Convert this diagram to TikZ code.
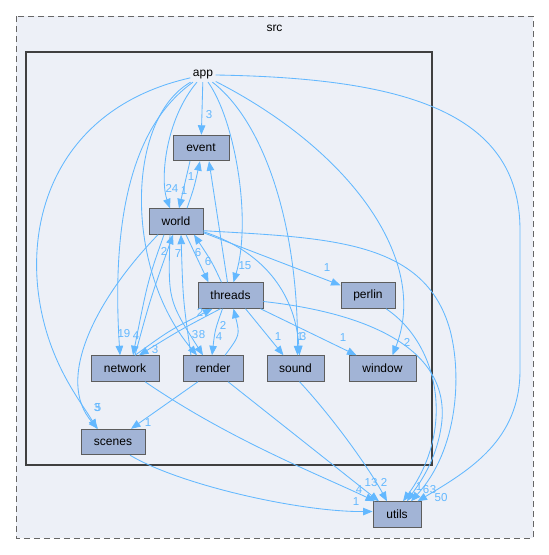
\documentclass[tikz,border=0pt]{standalone}
\usepackage{fontspec}
\setmainfont{Liberation Sans}
\usetikzlibrary{arrows.meta}
\definecolor{edgeblue}{HTML}{63B8FF}
\definecolor{nodefill}{HTML}{A2B4D6}
\definecolor{clusterfill}{HTML}{EDF0F7}
\definecolor{bordergrey}{HTML}{404040}
\begin{document}
\begin{tikzpicture}[x=1pt,y=-1pt,
  box/.style={draw=bordergrey!85, fill=nodefill, line width=0.9pt, minimum height=25.5pt, inner sep=0pt, font=\fontsize{12}{14}\selectfont},
  lbl/.style={text=edgeblue, inner sep=0pt, font=\fontsize{11.5}{13}\selectfont},
  dep/.style={draw=edgeblue, line width=0.85pt, -{Triangle[length=9.5pt,width=7.5pt]}},
  outercl/.style={draw=bordergrey!80, fill=clusterfill, line width=0.9pt, dash pattern=on 6pt off 4pt},
  innercl/.style={draw=bordergrey, fill=clusterfill, line width=2.2pt},
]
\fill[white] (0,0) rectangle (549,555);
\useasboundingbox (0,0) rectangle (549,555);
% clusters
\draw[outercl] (16,16) rectangle (533,538);
\node[font=\fontsize{12}{14}\selectfont, inner sep=0pt] (srclbl) at (274.5,28) {src};
\draw[innercl] (26,52) rectangle (432,465);
% nodes
\node[font=\fontsize{12}{14}\selectfont, inner sep=2.5pt] (app) at (203,75) {app};
\node[box, minimum width=56pt] (event) at (201,148) {event};
\node[box, minimum width=54pt] (world) at (176,221.5) {world};
\node[box, minimum width=65pt] (threads) at (230.5,295.5) {threads};
\node[box, minimum width=54pt] (perlin) at (368,295.5) {perlin};
\node[box, minimum width=68pt] (network) at (125,368.5) {network};
\node[box, minimum width=60pt] (render) at (213,368.5) {render};
\node[box, minimum width=57pt] (sound) at (295.5,368.5) {sound};
\node[box, minimum width=67pt] (window) at (382.5,368.5) {window};
\node[box, minimum width=64pt] (scenes) at (113,442) {scenes};
\node[box, minimum width=48pt] (utils) at (397,514.5) {utils};
% edges
\draw[dep] (app) -- (event);
\draw[dep] (app) .. controls (165,120) and (160,180) .. ([xshift=-6]world.north);
\draw[dep] ([xshift=-11]event.south) -- ([xshift=3]world.north);
\draw[dep] ([xshift=11]world.north) .. controls (194,188) .. ([xshift=-1]event.south);
\draw[dep] ([xshift=-3]threads.north) -- ([xshift=8]event.south);
\draw[dep] (app) .. controls (235,120) and (252,220) .. ([xshift=3]threads.north);
\draw[dep] ([xshift=10]world.south) -- ([xshift=-22]threads.north);
\draw[dep] ([xshift=-9]threads.north) .. controls (212,262) .. ([xshift=18]world.south);
\draw[dep] ([xshift=10]network.north) .. controls (150,300) .. ([xshift=-3]world.south);
\draw[dep] ([xshift=-22]render.north) .. controls (183,300) .. ([xshift=5]world.south);
\draw[dep] ([xshift=-12]world.south) .. controls (148,280) .. ([xshift=8]network.north);
\draw[dep] (app) .. controls (140,120) and (110,200) .. ([xshift=-5]network.north);
\draw[dep] (app) .. controls (70,105) and (28,200) .. (38,290) .. controls (46,360) and (80,400) .. ([xshift=-16]scenes.north);
\draw[dep] ([xshift=-18]world.south) .. controls (95,300) and (55,380) .. ([xshift=-15]scenes.north);
\draw[dep] (app) .. controls (125,120) and (125,270) .. ([xshift=-16]render.north);
\draw[dep] ([xshift=-6]world.south) .. controls (168,300) .. ([xshift=-10]render.north);
\draw[dep] (app) .. controls (262,120) and (298,220) .. ([xshift=2]sound.north);
\draw[dep] ([yshift=3]world.south east) .. controls (260,250) and (295,290) .. ([xshift=4]sound.north);
\draw[dep] ([xshift=15]threads.south) -- ([xshift=-12]sound.north);
\draw[dep] ([xshift=-3]threads.south east) -- ([xshift=-26]window.north);
\draw[dep] (app) .. controls (350,150) and (430,260) .. ([xshift=10]window.north);
\draw[dep] (app.east) .. controls (400,78) and (520,110) .. (520,230) -- (520,370) .. controls (520,440) and (470,470) .. ([xshift=-4]utils.north east);
\draw[dep] ([yshift=2]world.south east) -- ([yshift=-3]perlin.north west);
\draw[dep] ([yshift=4]world.south east) .. controls (330,238) and (425,240) .. (450,330) .. controls (462,375) and (458,450) .. ([xshift=14]utils.north);
\draw[dep] ([yshift=-6]threads.east) .. controls (360,312) and (448,345) .. (442,420) .. controls (438,460) and (418,485) .. ([xshift=10]utils.north);
\draw[dep] ([xshift=18]perlin.south) .. controls (440,345) and (455,430) .. ([xshift=6]utils.north);
\draw[dep] ([xshift=20]network.south) .. controls (230,440) and (320,475) .. ([xshift=-22]utils.north);
\draw[dep] ([xshift=15]render.south) -- ([xshift=-18]utils.north);
\draw[dep] ([xshift=4]sound.south) .. controls (335,420) and (370,470) .. ([xshift=-10]utils.north);
\draw[dep] ([xshift=-15]render.south) -- ([xshift=18]scenes.north);
\draw[dep] ([xshift=17]scenes.south) .. controls (180,485) and (300,512) .. ([yshift=3]utils.west);
\draw[dep] ([xshift=-10]threads.south) .. controls (180,330) .. ([xshift=14]network.north);
\draw[dep] ([xshift=10]network.north) .. controls (170,330) .. ([xshift=-18]threads.south);
\draw[dep] ([xshift=-8]threads.south) .. controls (215,330) .. ([xshift=-1]render.north);
\draw[dep] ([xshift=12]render.north) .. controls (240,335) .. ([xshift=3]threads.south);
% labels
\node[lbl] (l01) at (209,115) {3};
\node[lbl] (l02) at (172,188) {24};
\node[lbl] (l03) at (184,191) {1};
\node[lbl] (l04) at (191,177) {1};
\node[lbl] (l05) at (198,253) {6};
\node[lbl] (l06) at (208,262) {6};
\node[lbl] (l07) at (164,251) {2};
\node[lbl] (l08) at (178,254) {7};
\node[lbl] (l09) at (245,266) {15};
\node[lbl] (l10) at (327,268) {1};
\node[lbl] (l11) at (124,334) {19};
\node[lbl] (l12) at (136,336) {4};
\node[lbl] (l13) at (155,350) {3};
\node[lbl] (l14) at (200,312) {2};
\node[lbl] (l15) at (195,335) {3};
\node[lbl] (l16) at (202,335) {8};
\node[lbl] (l17) at (219,337) {4};
\node[lbl] (l18) at (223,325) {2};
\node[lbl] (l19) at (278,337) {1};
\node[lbl] (l20) at (300,337) {1};
\node[lbl] (l21) at (303,337) {3};
\node[lbl] (l22) at (343,338) {1};
\node[lbl] (l23) at (407,342) {2};
\node[lbl] (l24) at (98,408) {5};
\node[lbl] (l25) at (97,408) {3};
\node[lbl] (l26) at (148,423) {1};
\node[lbl] (l27) at (356,502) {1};
\node[lbl] (l28) at (359,490) {4};
\node[lbl] (l29) at (371,483) {13};
\node[lbl] (l30) at (384,482) {2};
\node[lbl] (l31) at (419,487) {1};
\node[lbl] (l32) at (426,490) {6};
\node[lbl] (l33) at (433,490) {3};
\node[lbl] (l34) at (441,498) {50};
\end{tikzpicture}
\end{document}
